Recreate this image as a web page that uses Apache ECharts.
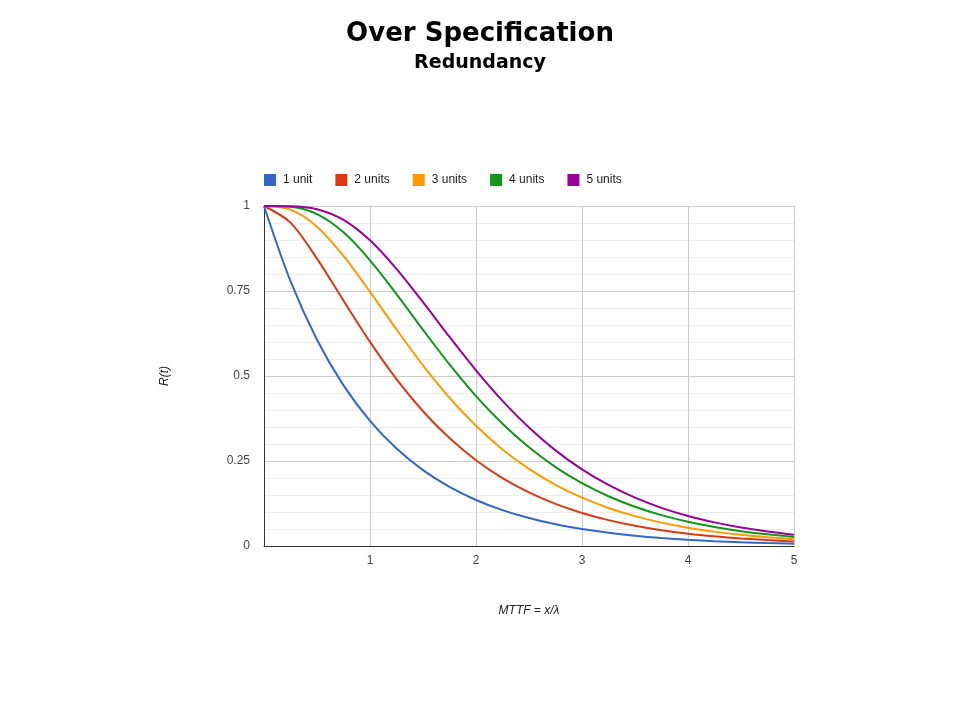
<!DOCTYPE html>
<html>
<head>
<meta charset="utf-8">
<script src="https://cdn.jsdelivr.net/npm/echarts@6/dist/echarts.min.js"></script>
<style>html,body{margin:0;padding:0;background:#fff;}#c{width:960px;height:720px;}</style>
</head>
<body>
<div id="c"></div>
<script>
var xValues = [0, 0.25, 0.5, 0.75, 1, 1.25, 1.5, 1.75, 2, 2.25, 2.5, 2.75, 3, 3.25, 3.5, 3.75, 4, 4.25, 4.5, 4.75, 5];
var seriesNames = ['1 unit', '2 units', '3 units', '4 units', '5 units'];
var unit1 = [1, 0.7788, 0.6065, 0.4724, 0.3679, 0.2865, 0.2231, 0.1738, 0.1353, 0.1054, 0.0821, 0.0639, 0.0498, 0.0388, 0.0302, 0.0235, 0.0183, 0.0143, 0.0111, 0.0087, 0.0067];
var units2 = [1, 0.9511, 0.8452, 0.7216, 0.6004, 0.4909, 0.3964, 0.3174, 0.2523, 0.1997, 0.1575, 0.1237, 0.0971, 0.0761, 0.0595, 0.0464, 0.0363, 0.0284, 0.0221, 0.0173, 0.0134];
var units3 = [1, 0.9892, 0.9391, 0.8531, 0.7474, 0.6368, 0.5311, 0.4360, 0.3535, 0.2840, 0.2267, 0.1797, 0.1421, 0.1119, 0.0879, 0.0688, 0.0539, 0.0423, 0.0330, 0.0258, 0.0200];
var units4 = [1, 0.9976, 0.9760, 0.9225, 0.8403, 0.7409, 0.6357, 0.5340, 0.4410, 0.3595, 0.2902, 0.2321, 0.1848, 0.1464, 0.1154, 0.0907, 0.0712, 0.0560, 0.0437, 0.0343, 0.0266];
var units5 = [1, 0.9995, 0.9906, 0.9591, 0.8991, 0.8151, 0.7170, 0.6150, 0.5166, 0.4270, 0.3485, 0.2812, 0.2254, 0.1795, 0.1421, 0.1121, 0.0882, 0.0695, 0.0543, 0.0427, 0.0331];
var yTickLabels = ['0', '0.25', '0.5', '0.75', '1'];
var xTickLabels = ['', '1', '2', '3', '4', '5'];
var colors = ['#3366cc', '#dc3912', '#ff9900', '#109618', '#990099'];

var allData = [unit1, units2, units3, units4, units5];
function pairs(ys) { return xValues.map(function (x, i) { return [x, ys[i]]; }); }

var chart = echarts.init(document.getElementById('c'), null, { renderer: 'canvas' });
chart.setOption({
  animation: false,
  color: colors,
  title: {
    text: 'Over Specification',
    subtext: 'Redundancy',
    left: 'center',
    top: 16,
    itemGap: 7,
    textStyle: { fontFamily: 'DejaVu Sans', fontWeight: 'bold', fontSize: 26, color: '#000' },
    subtextStyle: { fontFamily: 'DejaVu Sans', fontWeight: 'bold', fontSize: 19, color: '#000' }
  },
  legend: {
    left: 264,
    top: 174,
    padding: 0,
    itemWidth: 12,
    itemHeight: 12,
    itemGap: 23,
    icon: 'rect',
    textStyle: { fontFamily: 'Liberation Sans, Arial', fontSize: 12, color: '#222', padding: [0, 0, 0, 2] },
    data: seriesNames
  },
  grid: { left: 264, right: 166, top: 206, bottom: 174 },
  xAxis: {
    type: 'value',
    min: 0, max: 5, interval: 1,
    name: 'MTTF = x/λ',
    nameLocation: 'middle',
    nameGap: 59,
    nameTextStyle: { fontFamily: 'Liberation Sans, Arial', fontStyle: 'italic', fontSize: 12, color: '#222' },
    axisLine: { lineStyle: { color: '#333', width: 1 } },
    axisTick: { show: false },
    axisLabel: {
      fontFamily: 'Liberation Sans, Arial', fontSize: 12, color: '#444', margin: 9,
      formatter: function (v) { return xTickLabels[Math.round(v)]; }
    },
    splitLine: { show: true, lineStyle: { color: '#cccccc', width: 1 } }
  },
  yAxis: {
    type: 'value',
    min: 0, max: 1, interval: 0.25,
    name: 'R(t)',
    nameLocation: 'middle',
    nameGap: 93,
    nameTextStyle: { fontFamily: 'Liberation Sans, Arial', fontStyle: 'italic', fontSize: 12, color: '#222' },
    axisLine: { show: true, lineStyle: { color: '#333', width: 1 } },
    axisTick: { show: false },
    axisLabel: {
      fontFamily: 'Liberation Sans, Arial', fontSize: 12, color: '#444', margin: 14,
      formatter: function (v) { return yTickLabels[Math.round(v * 4)]; }
    },
    splitLine: { show: true, lineStyle: { color: '#cccccc', width: 1 } },
    minorTick: { show: false, splitNumber: 5 },
    minorSplitLine: { show: true, lineStyle: { color: '#ededed', width: 1 } }
  },
  series: seriesNames.map(function (n, i) {
    return {
      name: n,
      type: 'line',
      data: pairs(allData[i]),
      smooth: 0.3,
      showSymbol: false,
      symbol: 'none',
      lineStyle: { width: 2, color: colors[i] },
      itemStyle: { color: colors[i] },
      z: 2 + i
    };
  })
});
</script>
</body>
</html>
